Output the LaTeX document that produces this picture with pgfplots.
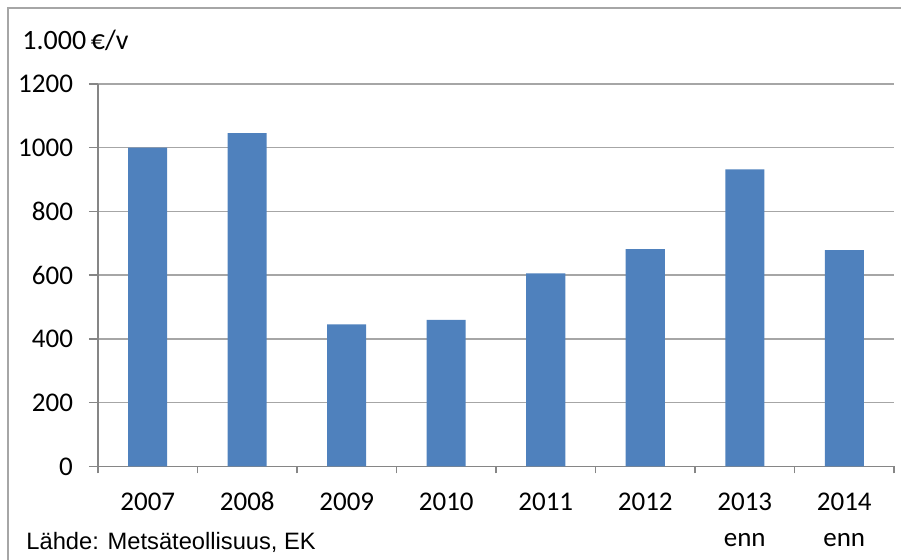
\documentclass[border=0pt]{standalone}
\usepackage{fontspec}
\setmainfont{Carlito}
\newfontfamily\arialfont{Liberation Sans}
\usepackage{pgfplots}
\pgfplotsset{compat=1.18}
\definecolor{barblue}{HTML}{4F81BD}
\definecolor{gridgray}{HTML}{A6A6A6}
\definecolor{axisgray}{HTML}{868686}
\newcommand{\twoline}[2]{\begin{tabular}[t]{@{}c@{}}#1\\[0.5pt]#2\end{tabular}}
\begin{document}
\begin{tikzpicture}
\useasboundingbox (0,0) rectangle (450.5pt,-280pt);
\draw[gridgray, line width=1pt] (4pt,-280pt) -- (4pt,-4pt) -- (450.5pt,-4pt);
\begin{axis}[
    at={(49pt,-233.25pt)}, anchor=south west,
    scale only axis, width=398pt, height=191.25pt,
    xmin=-0.5, xmax=7.5, ymin=0, ymax=1200,
    ytick={0,200,...,1200},
    xtick={0,...,7},
    xticklabels={2007,2008,2009,2010,2011,2012,\twoline{2013}{enn},\twoline{2014}{enn}},
    minor xtick={-0.5,0.5,...,7.5},
    axis x line*=bottom, axis y line*=left,
    axis line style={axisgray, line width=0.75pt},
    ymajorgrids, grid style={gridgray, line width=0.75pt},
    tick align=outside,
    major tick length=4.5pt, minor tick length=3.5pt,
    tick style={axisgray, line width=0.75pt},
    major x tick style={draw=none},
    ticklabel style={font=\fontsize{13.5}{17.5}\selectfont, text=black},
    xticklabel style={anchor=base, yshift=-17.75pt},
    yticklabel style={xshift=-4.5pt},
    /pgf/number format/1000 sep={},
    /pgf/number format/assume math mode=true,
    ybar, bar width=19.5pt,
]
\addplot[fill=barblue, draw=none] coordinates {
    (0,1000) (1,1046) (2,446) (3,460) (4,606) (5,682) (6,932) (7,679)
};
\end{axis}
\node[anchor=base west, inner sep=0pt, font=\fontsize{14}{16}\selectfont] at (11pt,-25pt) {1.000\,€/v};
\node[anchor=base west, inner sep=0pt, font=\arialfont\fontsize{11.85}{13}\selectfont] at (13pt,-275pt) {Lähde: Metsäteollisuus, EK};
\end{tikzpicture}
\end{document}
